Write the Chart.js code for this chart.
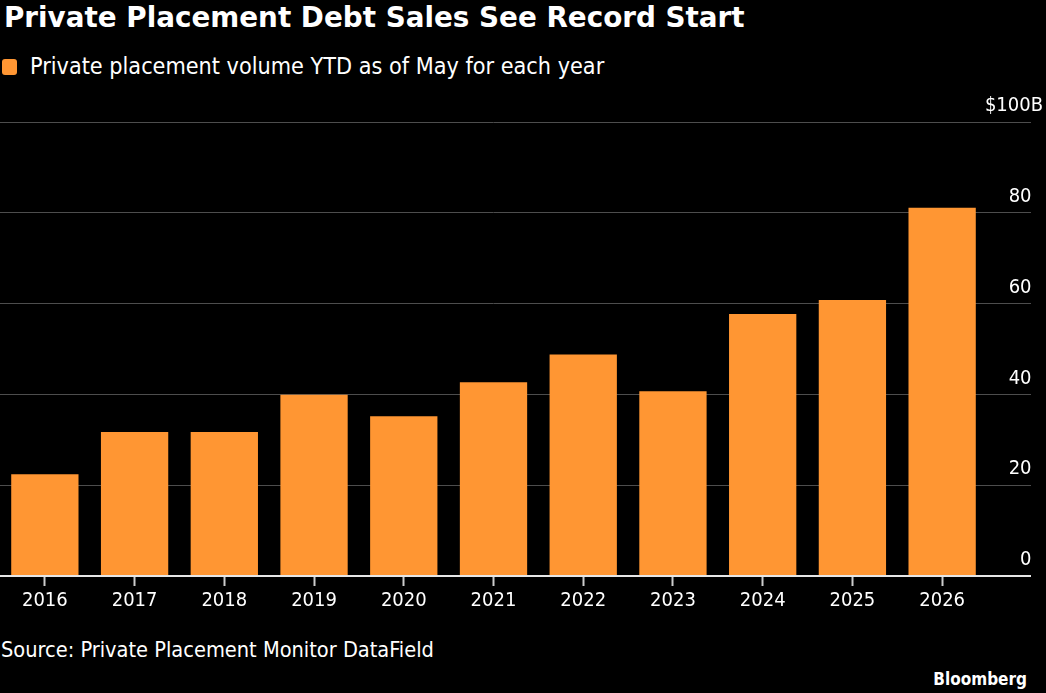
<!DOCTYPE html>
<html>
<head>
<meta charset="utf-8">
<script src="https://cdn.jsdelivr.net/npm/chart.js@4/dist/chart.umd.min.js"></script>
<style>
  body {
    margin: 0;
    background: #000;
    width: 1046px;
    height: 693px;
    overflow: hidden;
    position: relative;
    color: #fff;
    font-family: "DejaVu Sans Condensed", "DejaVu Sans", sans-serif;
    font-stretch: condensed;
  }
  #title {
    position: absolute;
    left: 4px;
    top: 2px;
    font: bold 27.8px/32px "DejaVu Sans", sans-serif;
    font-stretch: normal;
    white-space: nowrap;
  }
  #legend {
    position: absolute;
    left: 2px;
    top: 52px;
    font-size: 23.2px;
    line-height: 27px;
    white-space: nowrap;
  }
  #legend .box {
    display: inline-block;
    width: 15px;
    height: 16px;
    border-radius: 3px;
    background: #ff9633;
    margin-right: 13px;
    vertical-align: -1px;
  }
  #wrap {
    position: absolute;
    left: 0;
    top: 90px;
    width: 1046px;
    height: 530px;
  }
  #source {
    position: absolute;
    left: 1px;
    top: 637px;
    font-size: 21.6px;
    line-height: 25px;
    white-space: nowrap;
  }
  #brand {
    position: absolute;
    right: 19px;
    top: 669px;
    font-size: 17px;
    line-height: 20px;
    font-weight: bold;
  }
</style>
</head>
<body>
<div id="title">Private Placement Debt Sales See Record Start</div>
<div id="legend"><span class="box"></span>Private placement volume YTD as of May for each year</div>
<div id="wrap"><canvas id="myChart" width="1046" height="530"></canvas></div>
<div id="source">Source: Private Placement Monitor DataField</div>
<div id="brand">Bloomberg</div>

<script>
const years = ["2016", "2017", "2018", "2019", "2020", "2021", "2022", "2023", "2024", "2025", "2026"];
const volume = [22.4, 31.7, 31.7, 39.9, 35.2, 42.7, 48.8, 40.7, 57.7, 60.8, 81.1];
const yMax = 100;
const yStep = 20;

const tickFont = { family: '"DejaVu Sans Condensed", "DejaVu Sans", sans-serif', size: 20 };

const ctx = document.getElementById("myChart");

new Chart(ctx, {
  type: "bar",
  data: {
    labels: years,
    datasets: [
      {
        label: "Private placement volume YTD as of May for each year",
        data: volume,
        backgroundColor: "#ff9633",
        borderWidth: 0,
        categoryPercentage: 1,
        barPercentage: 0.75,
      },
    ],
  },
  options: {
    responsive: false,
    animation: false,
    layout: { padding: { left: 0, right: 15, top: 32, bottom: 4 } },
    plugins: {
      legend: { display: false },
      tooltip: { enabled: false },
    },
    scales: {
      x: {
        border: { display: false },
        grid: {
          offset: false,
          drawOnChartArea: false,
          tickLength: 10,
          tickColor: "#cccccc",
          tickWidth: 2,
        },
        ticks: { color: "#ffffff", font: tickFont, padding: 3, maxRotation: 0 },
      },
      y: {
        position: "right",
        min: 0,
        max: yMax,
        border: { display: false },
        grid: {
          color: (c) => (c.tick && c.tick.value === 0 ? "#e6e6e6" : "#4d4d4d"),
          lineWidth: (c) => (c.tick && c.tick.value === 0 ? 2 : 1),
          tickLength: 44,
        },
        ticks: {
          stepSize: yStep,
          mirror: true,
          // mirrored right axis: label x = scale.left + padding
          padding: 56,
          labelOffset: -16,
          color: "#ffffff",
          font: tickFont,
          // unit hangs past the number column, like the original
          callback: (v) => (v === yMax ? "$" + v + "B" : v + "\u2007"),
        },
        afterFit: (scale) => {
          scale.width = 44;
          // keep the label padding from squeezing the plot vertically
          scale.paddingTop = 0;
          scale.paddingBottom = 0;
        },
      },
    },
  },
});
</script>
</body>
</html>
